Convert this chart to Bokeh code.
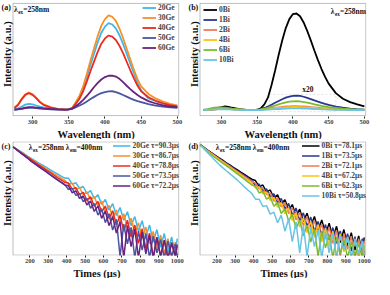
import math
from bokeh.plotting import figure
from bokeh.layouts import gridplot
from bokeh.models import Range1d, Label, Legend, LegendItem, FixedTicker, BoxAnnotation, Title
from bokeh.embed import file_html
from bokeh.resources import INLINE

# ---------------- data ----------------
WL = [275, 280, 285, 290, 295, 300, 305, 310, 315, 325, 335, 345, 350,
      355, 360, 365, 370, 375, 380, 385, 390, 395, 400,
      405, 410, 415, 420, 425, 430, 435, 440, 445, 450,
      460, 470, 480, 490, 500]

GE_LABELS = ["20Ge", "30Ge", "40Ge", "50Ge", "60Ge"]
GE_20 = [5.5, 6.5, 8, 9.8, 10.5, 10, 9, 8, 7.3, 6.3, 5.6, 5.3, 5.4,
         6.9, 11.6, 17, 24.7, 34.7, 45.4, 55.4, 65.4, 73.9, 79.3,
         82.4, 81.2, 77.8, 71.6, 63.9, 55.1, 46.2, 37.7, 29, 22.5,
         15.4, 13, 10.8, 9, 7.8]
GE_30 = [7, 10, 15, 19, 20.5, 19, 16, 12.5, 10, 7.5, 6, 5.4, 5.5,
         7.1, 12.1, 18, 26.4, 37.3, 49.1, 60, 70.9, 80.2, 86,
         89.4, 88.1, 84.4, 77.6, 69.2, 59.6, 49.9, 40.7, 32.3, 26,
         19.3, 15.3, 12.5, 10.4, 9]
GE_40 = [6.8, 9.5, 14.5, 18.5, 20, 18.5, 15.5, 12, 9.6, 7.2, 5.8, 5.4, 5.5,
         6.7, 10.7, 15.3, 21.9, 30.5, 39.7, 48.3, 56.9, 64.1, 68.8,
         71.4, 70.4, 67.4, 62.2, 55.6, 48, 40.4, 33.1, 26.5, 21.6,
         16.3, 13.2, 11, 9.4, 8.2]
GE_50 = [5.2, 5.5, 6, 6.6, 7, 7, 6.7, 6.3, 6, 5.6, 5.3, 5.3, 5.5,
         6.2, 7.6, 9, 10.6, 12.6, 14.7, 16.7, 18.6, 20, 21,
         21.6, 21.7, 21, 19.8, 18.4, 16.9, 15.4, 14, 13, 12.1,
         10.2, 8.9, 8, 7.3, 6.8]
GE_60 = [5.4, 5.7, 6.3, 7, 7.6, 7.6, 7.2, 6.8, 6.4, 5.9, 5.5, 5.4, 5.6,
         6.2, 8.5, 11, 14, 17.5, 21.4, 25.5, 29.2, 32.2, 34.3,
         35.5, 35.7, 34.8, 32.8, 29.8, 26.6, 23.6, 20.8, 18.3, 16.2,
         12.9, 10.8, 9.2, 8.1, 7.6]

BI_LABELS = ["0Bi", "1Bi", "2Bi", "4Bi", "6Bi", "10Bi"]
BI_0 = [4.9, 5.1, 5.4, 5.9, 6.8, 7.6, 8.1, 7.8, 7, 5.7, 5, 4.9, 5.2,
        6.5, 10, 16, 27, 40, 54, 67, 78, 86, 90.5,
        91, 88.5, 83, 75.5, 67, 58, 49.5, 41.5, 34.5, 28.5,
        20, 15, 12, 10, 8.2]
BI_1 = [4.9, 5, 5.2, 5.5, 5.8, 6, 6.1, 6, 5.8, 5.3, 5, 4.9, 5.1,
        5.8, 6.8, 8.1, 9.7, 11.4, 13, 14.6, 16, 17, 17.6,
        17.8, 17.6, 16.8, 15.8, 14.7, 13.5, 12.4, 11.4, 10.4, 9.5,
        8.1, 7, 6.2, 5.7, 5.4]
BI_2 = [5, 5.1, 5.3, 5.5, 5.8, 6, 6, 5.9, 5.7, 5.3, 5, 4.9, 5,
        5.3, 5.7, 6.1, 6.6, 7, 7.4, 7.8, 8.1, 8.3, 8.4,
        8.4, 8.3, 8.1, 7.9, 7.6, 7.3, 7, 6.7, 6.4, 6.2,
        5.8, 5.5, 5.3, 5.1, 5]
BI_4 = [5, 5.1, 5.3, 5.5, 5.7, 5.9, 5.9, 5.8, 5.6, 5.2, 5, 4.9, 5,
        5.2, 5.5, 5.9, 6.2, 6.6, 6.9, 7.2, 7.4, 7.6, 7.7,
        7.7, 7.6, 7.4, 7.2, 7, 6.8, 6.5, 6.3, 6.1, 5.9,
        5.6, 5.4, 5.2, 5.1, 5]
BI_6 = [5.3, 5.8, 6.4, 7, 7.3, 7.3, 7, 6.6, 6.2, 5.6, 5.1, 4.9, 5,
        5.5, 6.2, 7, 8, 9, 10, 11, 11.8, 12.4, 12.7,
        12.8, 12.6, 12.1, 11.5, 10.8, 10.1, 9.4, 8.7, 8.1, 7.6,
        6.8, 6.2, 5.8, 5.5, 5.3]
BI_10 = [5, 5.1, 5.3, 5.5, 5.6, 5.7, 5.6, 5.5, 5.3, 5.1, 5, 4.9, 4.9,
         5, 5.1, 5.3, 5.5, 5.7, 5.9, 6.1, 6.3, 6.4, 6.5,
         6.5, 6.4, 6.3, 6.2, 6.1, 5.9, 5.8, 5.6, 5.5, 5.4,
         5.2, 5.1, 5, 5, 4.9]

ZOOM_BOX = dict(left=367, right=460, bottom=3.5, top=18.9)

T = [110, 130, 150, 170, 190, 210, 230, 250, 270, 290,
     310, 330, 350, 370, 390, 410, 430, 450, 470, 490,
     510, 530, 550, 570, 590, 610, 630, 650, 670, 690,
     710, 730, 750, 770, 790, 810, 830, 850, 870, 890,
     910, 930, 950, 970, 990, 1000]

TAU_GE = ["20Ge τ=90.3μs", "30Ge τ=86.7μs", "40Ge τ=78.8μs", "50Ge τ=73.5μs", "60Ge τ=72.2μs"]
D_20 = [6600, 5500, 4570, 3800, 3100, 2570, 2140, 1780, 1510, 1260,
        1050, 870, 740, 617, 525, 520, 320, 360, 230, 265,
        150, 190, 100, 135, 62, 92, 39, 66, 25, 48,
        17, 34, 11, 23, 7, 16.5, 4.5, 11.5, 2.9, 8,
        1.9, 5.8, 1.3, 4.4, 1, 3.8]
D_30 = [6600, 5370, 4365, 3630, 2950, 2400, 2000, 1620, 1350, 1100,
        912, 760, 630, 525, 436, 320, 350, 205, 245, 137,
        172, 89, 118, 54, 82, 34, 57, 21, 39, 14,
        29, 9, 20, 5.9, 13.8, 3.9, 9.8, 2.5, 6.9, 1.7,
        5.1, 1.1, 3.8, 0.8, 2.9, 1.0]
D_40 = [6600, 5370, 4270, 3470, 2820, 2290, 1860, 1510, 1230, 1000,
        832, 676, 550, 457, 372, 350, 215, 240, 138, 165,
        86, 115, 53, 79, 33, 54, 19.5, 37, 11.5, 25,
        7, 17, 4.4, 11.5, 2.6, 8.5, 1.7, 6, 0.8, 4.3,
        0.9, 3.3, 0.8, 2.5, 0.9, 2.1]
D_50 = [6600, 5250, 4170, 3310, 2630, 2040, 1660, 1350, 1100, 890,
        708, 575, 468, 380, 309, 207, 230, 129, 150, 77,
        101, 45, 67, 26, 44, 14, 29, 7.7, 18.5, 0.9,
        12.5, 2.5, 9.5, 0.8, 7, 1.5, 5.7, 0.8, 4.8, 1.2,
        3.6, 0.8, 3.1, 0.9, 2.5, 0.8]
D_60 = [6600, 5200, 4100, 3250, 2580, 2010, 1630, 1320, 1070, 870,
        690, 560, 455, 370, 300, 280, 160, 187, 100, 123,
        59, 82, 35, 54, 20, 36, 11, 23, 6, 15,
        0.8, 11, 2, 8.3, 0.8, 6.5, 1.1, 5.2, 0.8, 4.2,
        0.9, 3.4, 0.8, 2.8, 0.9, 2.4]

TAU_BI = ["0Bi τ=78.1μs", "1Bi τ=73.5μs", "2Bi τ=72.1μs", "4Bi τ=67.2μs", "6Bi τ=62.3μs", "10Bi τ=50.8μs"]
E_0 = [7940, 6460, 5130, 4170, 3390, 2750, 2290, 1860, 1550, 1260,
       1050, 850, 708, 575, 479, 430, 263, 300, 169, 200,
       106, 135, 65, 91, 39, 61, 24, 42, 15.6, 30,
       10.4, 23, 7.7, 17.5, 5.4, 13.5, 3.9, 10.4, 2.8, 8,
       2, 6.2, 1.5, 4.8, 1.1, 4.2]
E_1 = [7940, 6300, 5000, 4050, 3280, 2660, 2180, 1780, 1450, 1190,
       970, 790, 650, 530, 432, 285, 325, 183, 218, 115,
       146, 71, 100, 43, 67, 26, 46, 16.5, 31, 10.4,
       22, 7, 15.5, 4.8, 12, 3.5, 9.4, 2.6, 7.2, 1.9,
       5.7, 1.4, 4.5, 0.9, 3.8, 1.1]
E_2 = [7940, 6200, 4900, 3950, 3180, 2570, 2090, 1700, 1380, 1120,
       910, 740, 600, 490, 400, 350, 215, 240, 136, 162,
       81, 105, 50, 72, 29.5, 47, 17.7, 32, 11, 23,
       7.5, 16.5, 5.2, 12.5, 3.7, 9.6, 2.6, 7.5, 0.9, 5.8,
       1.6, 4.7, 0.8, 3.8, 1.0, 3.2]
E_4 = [7940, 6000, 4700, 3750, 3000, 2400, 1950, 1580, 1270, 1030,
       830, 670, 540, 440, 350, 233, 260, 145, 170, 86,
       110, 49, 72, 29, 47, 16.5, 31, 9.8, 21, 6.2,
       15.5, 4.2, 11.8, 2.9, 8.9, 2, 7, 0.8, 5.7, 1.3,
       4.4, 0.8, 3.6, 0.9, 2.9, 1.0]
E_6 = [7940, 5800, 4500, 3550, 2800, 2250, 1820, 1470, 1180, 950,
       760, 600, 480, 380, 300, 275, 157, 180, 95, 113,
       53, 71, 29.5, 44, 16, 28, 8.5, 17.5, 4.7, 11.5,
       2.9, 8.5, 0.9, 6.8, 1.8, 5.4, 0.8, 4.4, 1.1, 3.6,
       0.8, 3.0, 0.9, 2.5, 0.8, 2.2]
E_10 = [7940, 5750, 4170, 3090, 2240, 1660, 1260, 977, 759, 589,
        457, 347, 257, 195, 150, 95, 95, 52, 56, 28,
        33, 14, 26, 7, 19, 3, 15, 1.2, 11.5, 0.9,
        9, 2, 7.8, 0.8, 6.6, 1.2, 5.7, 0.8, 5, 1.5,
        4.4, 0.8, 3.8, 1.1, 3.2, 0.8]

GE_COLORS = ["#3FB7E9", "#F5902E", "#EC2A1F", "#4A56A3", "#6A2281"]
BI_COLORS = ["#000000", "#2B3692", "#EE7A5A", "#FCC212", "#7CBB2F", "#68C4E3"]

# ---------------- layout helpers ----------------
FONT = "Liberation Serif"
W, H = 187, 139
RB = 8            # right border
PAD = 12.5        # room kept inside the frame for "(a)" and the y label
FW = W - RB       # frame width (no left border)


def make_fig(box_x, box_y, xlabel, xticks, title_left, log=False):
    x0, x1 = box_x
    k = (FW - PAD) / (x1 + (x1 - x0) * 0.004 - x0)
    xs = x0 - PAD / k
    xe = x1 + (x1 - x0) * 0.004
    if log:
        yr = Range1d(box_y[0] * 0.97, box_y[1] * 1.03)
    else:
        d = (box_y[1] - box_y[0]) * 0.008
        yr = Range1d(box_y[0] - d, box_y[1] + d)
    p = figure(width=W, height=H, x_range=Range1d(xs, xe), y_range=yr,
               y_axis_type="log" if log else "linear", y_axis_location=None,
               output_backend="svg", toolbar_location=None,
               min_border_left=0, min_border_right=RB, min_border_top=2, min_border_bottom=10)
    p.grid.visible = False
    p.outline_line_color = None
    xa = p.xaxis[0]
    xa.ticker = FixedTicker(ticks=xticks)
    xa.axis_line_color = None
    xa.major_tick_line_color = "#222222"
    xa.major_tick_out = 2
    xa.major_tick_in = 0
    xa.minor_tick_out = 0
    xa.minor_tick_in = 0
    xa.major_label_text_font = FONT
    xa.major_label_text_font_style = "bold"
    xa.major_label_text_font_size = "6.5px"
    xa.major_label_standoff = 1
    p.add_layout(Title(text=xlabel, align="left", offset=title_left, standoff=0,
                       text_font=FONT, text_font_style="bold", text_font_size="10.5px",
                       text_color="#111111"), "below")
    p.add_layout(BoxAnnotation(left=x0, right=x1, bottom=box_y[0], top=box_y[1],
                               fill_alpha=0, line_color="#222222", line_width=1))
    p._xs = xs
    p._k = k
    return p


def txt(p, x, y, text, size=7.5, xo=0, yo=0, align="left", baseline="top", angle=0):
    p.add_layout(Label(x=x, y=y, text=text, x_offset=xo, y_offset=yo, angle=angle,
                       text_align=align, text_baseline=baseline,
                       text_font=FONT, text_font_style="bold", text_font_size=f"{size}px",
                       text_color="#111111"))


def side_texts(p, tag, ytop, ymid):
    xpx = lambda px: p._xs + px / p._k
    txt(p, xpx(1.0), ytop, tag, size=8)
    txt(p, xpx(1.5), ymid, "Intensity (a.u.)", size=10.5, align="center",
        baseline="top", angle=math.pi / 2)


def lam(p, x, y, parts, size=7.5):
    off = 0
    for t, sub, w in parts:
        if sub:
            txt(p, x, y, t, size=size * 0.68, xo=off, yo=-size * 0.5)
        else:
            txt(p, x, y, t, size=size, xo=off)
        off += w


def legend(p, items, loc, glyph_w, margin, label_size=7.5):
    lg = Legend(items=[LegendItem(label=l, renderers=[r]) for l, r in items], location=loc)
    lg.label_text_font = FONT
    lg.label_text_font_style = "bold"
    lg.label_text_font_size = f"{label_size}px"
    lg.label_height = 9
    lg.glyph_height = 9
    lg.glyph_width = glyph_w
    lg.label_standoff = 2
    lg.spacing = 1
    lg.padding = 0
    lg.margin = margin
    lg.border_line_alpha = 0
    lg.background_fill_alpha = 0
    p.add_layout(lg)


WL_TICKS = [300, 350, 400, 450, 500]
T_TICKS = [200, 300, 400, 500, 600, 700, 800, 900, 1000]

# ---------------- (a) ----------------
pa = make_fig((273, 502), (0, 100), "Wavelength (nm)", WL_TICKS, 57)
ra = [pa.line(WL, ys, line_color=c, line_width=1.8)
      for ys, c in zip([GE_20, GE_30, GE_40, GE_50, GE_60], GE_COLORS)]
legend(pa, list(zip(GE_LABELS, ra)), "top_right", 14, 1)
side_texts(pa, "(a)", 100.5, 54.8)
lam(pa, 274.5, 98.5, [("λ", False, 4.2), ("ex", True, 5.0), ("=258nm", False, 0)])

# ---------------- (b) ----------------
pb = make_fig((270, 502), (0, 100), "Wavelength (nm)", WL_TICKS, 57)
rb = [pb.line(WL, ys, line_color=c, line_width=1.8)
      for ys, c in zip([BI_0, BI_1, BI_2, BI_4, BI_6, BI_10], BI_COLORS)]
legend(pb, list(zip(BI_LABELS, rb)), (16, 52), 14, 0)
pb.add_layout(BoxAnnotation(fill_alpha=0, line_color="#999999", line_dash="2 2",
                            line_width=1, **ZOOM_BOX))
txt(pb, 421, 19.3, "x20", size=7.5, align="center", baseline="bottom")
side_texts(pb, "(b)", 100.5, 54.8)
lam(pb, 453, 96.5, [("λ", False, 4.2), ("ex", True, 5.0), ("=258nm", False, 0)])

# ---------------- (c) ----------------
pc = make_fig((109, 1009), (1, 10000), "Times (μs)", T_TICKS, 73, log=True)
rc = [pc.line(T, ys, line_color=c, line_width=1.5)
      for ys, c in zip([D_20, D_30, D_40, D_50, D_60], GE_COLORS)]
legend(pc, list(zip(TAU_GE, rc)), "top_right", 18, 0)
side_texts(pc, "(c)", 10100, 155)
lam(pc, 195, 9000, [("λ", False, 4.2), ("ex", True, 5.0), ("=258nm λ", False, 32.0),
                    ("em", True, 6.4), ("=400nm", False, 0)])

# ---------------- (d) ----------------
pd_ = make_fig((109, 1009), (1, 10000), "Times (μs)", T_TICKS, 73, log=True)
rd = [pd_.line(T, ys, line_color=c, line_width=1.5)
      for ys, c in zip([E_0, E_1, E_2, E_4, E_6, E_10], BI_COLORS)]
legend(pd_, list(zip(TAU_BI, rd)), "top_right", 18, 0)
side_texts(pd_, "(d)", 10100, 155)
lam(pd_, 195, 9000, [("λ", False, 4.2), ("ex", True, 5.0), ("=258nm λ", False, 32.0),
                     ("em", True, 6.4), ("=400nm", False, 0)])

grid = gridplot([[pa, pb], [pc, pd_]], toolbar_location=None)
open("out.html", "w").write(file_html(grid, INLINE))
